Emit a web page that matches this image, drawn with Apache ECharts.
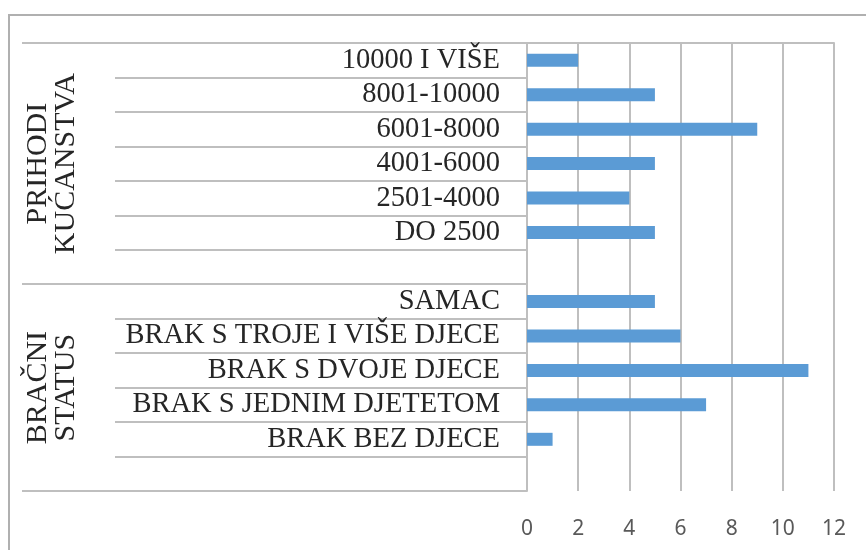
<!DOCTYPE html>
<html>
<head>
<meta charset="utf-8">
<script src="https://cdn.jsdelivr.net/npm/echarts@6/dist/echarts.min.js"></script>
<style>
  html, body { margin: 0; padding: 0; background: #fff; }
  #chart { width: 866px; height: 550px; }
</style>
</head>
<body>
<div id="chart"></div>
<script>
const incomeCats = ['10000 I VIŠE', '8001-10000', '6001-8000', '4001-6000', '2501-4000', 'DO 2500']
const incomeVals = [2, 5, 9, 5, 4, 5]
const maritalCats = ['SAMAC', 'BRAK S TROJE I VIŠE DJECE', 'BRAK S DVOJE DJECE', 'BRAK S JEDNIM DJETETOM', 'BRAK BEZ DJECE']
const maritalVals = [5, 6, 11, 7, 1]
const groupNames = ['PRIHODI\nKUĆANSTVA', 'BRAČNI\nSTATUS']
const xTicks = [0, 2, 4, 6, 8, 10, 12]

// each group ends with an empty row, like the original
const cats = [...incomeCats, '', ...maritalCats, '']
const vals = [...incomeVals, null, ...maritalVals, null]
const groupEdges = [0, incomeCats.length + 1, cats.length]
const groupCenters = [
  (groupEdges[0] + groupEdges[1]) / 2,
  (groupEdges[1] + groupEdges[2]) / 2
]

const chart = echarts.init(document.getElementById('chart'))

const serif = 'Liberation Serif'
const gray = '#bfbfbf'

const option = {
  animation: false,
  backgroundColor: '#fff',
  graphic: [{
    type: 'rect',
    shape: { x: 9, y: 15, width: 870, height: 560 },
    style: { fill: 'none', stroke: '#b0b0b0', lineWidth: 2 },
    silent: true
  }],
  grid: { left: 527, right: 32, top: 43, bottom: 59 },
  xAxis: {
    type: 'value',
    min: xTicks[0],
    max: xTicks[xTicks.length - 1],
    interval: 2,
    axisLine: { show: true, lineStyle: { color: gray, width: 2 } },
    axisTick: { show: false },
    splitLine: { show: true, lineStyle: { color: gray, width: 2 } },
    axisLabel: {
      margin: 28,
      fontFamily: 'Noto Sans',
      fontSize: 21,
      color: '#595959'
    }
  },
  yAxis: [{
    type: 'category',
    inverse: true,
    data: cats,
    axisLine: { show: true, lineStyle: { color: gray, width: 2 } },
    axisTick: { show: true, interval: 0, length: 412, lineStyle: { color: gray, width: 2 } },
    axisLabel: {
      interval: 0,
      margin: 27,
      fontFamily: serif,
      fontSize: 28.5,
      color: '#262626'
    }
  }, {
    type: 'value',
    inverse: true,
    min: groupEdges[0],
    max: groupEdges[2],
    position: 'left',
    axisLine: { show: false },
    splitLine: { show: false },
    axisTick: {
      show: true,
      customValues: groupEdges,
      length: 505,
      lineStyle: { color: gray, width: 2 }
    },
    axisLabel: {
      customValues: groupCenters,
      rotate: 90,
      margin: 447,
      fontFamily: serif,
      fontSize: 30,
      lineHeight: 28,
      color: '#262626',
      formatter: v => groupNames[groupCenters.indexOf(v)] || ''
    }
  }],
  series: [{
    type: 'bar',
    yAxisIndex: 0,
    data: vals,
    barWidth: 13,
    itemStyle: { color: '#5b9bd5' }
  }]
}

chart.setOption(option)
</script>
</body>
</html>
